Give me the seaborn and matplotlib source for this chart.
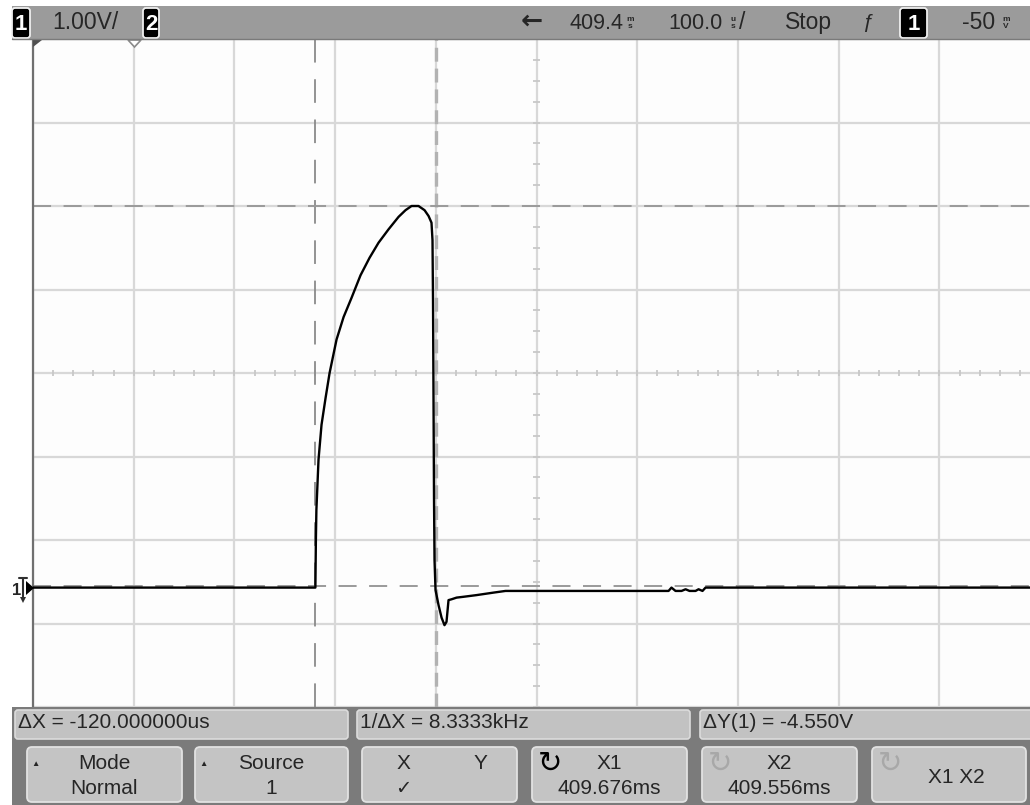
import numpy as np
import pandas as pd
import matplotlib
matplotlib.use("Agg")
import matplotlib.pyplot as plt
import seaborn as sns
from matplotlib.patches import Rectangle, FancyBboxPatch, Polygon

# ---------------- data ----------------
# time in microseconds relative to screen centre, voltage in volts (1 V/div)
time_us = [-500.0, -219.6, -219.1, -218.6, -216.5, -213.5, -209.5, -205.5, -198.6,
           -191.6, -183.7, -174.8, -165.8, -156.9, -147.0, -137.0, -130.1, -124.1,
           -117.2, -111.2, -107.2, -104.3, -103.3, -102.8, -102.3, -101.8, -101.3,
           -100.3, -97.3, -94.3, -91.4, -89.4, -87.4, -84.4, -79.4, -72.5, -59.6,
           -42.7, -30.8, 61.6, 131.1, 134.0, 138.0, 144.0, 148.0, 151.9, 157.9,
           160.9, 164.8, 167.8, 490.0]
volts = [-2.57, -2.57, -2.00, -1.64, -1.04, -0.62, -0.30, 0.00, 0.40,
         0.67, 0.90, 1.17, 1.38, 1.56, 1.72, 1.87, 1.95, 2.00,
         2.00, 1.95, 1.88, 1.80, 1.59, 0.87, -0.32, -1.52, -2.24,
         -2.60, -2.78, -2.93, -3.02, -2.98, -2.72, -2.71, -2.69, -2.68, -2.66,
         -2.63, -2.61, -2.61, -2.61, -2.57, -2.61, -2.61, -2.59, -2.61, -2.61,
         -2.59, -2.61, -2.57, -2.57]

cursor_x_us = [-220.0, -100.0]      # X2, X1
cursor_y_v = [2.0, -2.55]           # Y cursors
x_divs_us = list(range(-500, 501, 100))
y_divs_v = list(range(-4, 5, 1))

top_labels = {"scale": "1.00V/", "delay": "409.4", "tdiv": "100.0", "state": "Stop", "level": "-50"}
readouts = ["\u0394X = -120.000000us", "1/\u0394X = 8.3333kHz", "\u0394Y(1) = -4.550V"]
buttons = [("Mode", "Normal"), ("Source", "1"), ("X", "Y"),
           ("X1", "409.676ms"), ("X2", "409.556ms"), ("X1 X2", "")]

df = pd.DataFrame({"t": time_us, "v": volts})

# ---------------- style ----------------
sns.set_style("white")
plt.rcParams["font.family"] = ["Liberation Sans", "DejaVu Sans"]
plt.rcParams["lines.scale_dashes"] = False

W, H = 1030, 805
fig = plt.figure(figsize=(W / 100, H / 100), dpi=100)
fig.patch.set_facecolor("white")

# main scope screen: pixels x 33..1030, y 39..707
ax = fig.add_axes([33 / W, (H - 707) / H, (W - 33) / W, 668 / H], zorder=1)
ax.set_facecolor("#fdfdfd")

# trace
sns.lineplot(data=df, x="t", y="v", sort=False, estimator=None, color="black",
             lw=1.7, ax=ax, zorder=3)
ax.set_xlabel("")
ax.set_ylabel("")

ax.set_xticks(x_divs_us)
ax.set_yticks(y_divs_v)
ax.grid(True, color="#d8d8d8", lw=1.6)
ax.tick_params(length=0, labelbottom=False, labelleft=False)
for s in ["top", "right", "bottom"]:
    ax.spines[s].set_visible(False)
ax.spines["left"].set_color("#707070")
ax.spines["left"].set_linewidth(1.6)

# minor ticks along centre axes
ax.vlines(np.arange(-500, 491, 20), -0.04, 0.04, color="#c8c8c8", lw=1.3, zorder=1)
ax.hlines(np.arange(-4, 4.01, 0.25), -3.5, 3.5, color="#c8c8c8", lw=1.3, zorder=1)

# cursors
ax.axvline(cursor_x_us[0], color="#8a8a8a", lw=1.3, dashes=(17, 12), zorder=2)
ax.axvline(cursor_x_us[1], color="#b2b2b2", lw=2.4, dashes=(10, 5), zorder=2)
for yv in cursor_y_v:
    ax.axhline(yv, color="#9a9a9a", lw=1.4, dashes=(13, 9), zorder=2)

ax.set_xlim(-500, 490)
ax.set_ylim(-4, 4)

# ---------------- overlay in pixel coordinates ----------------
ov = fig.add_axes([0, 0, 1, 1], zorder=2)
ov.set_xlim(0, W)
ov.set_ylim(H, 0)
ov.axis("off")
ov.patch.set_alpha(0)

# top status bar
ov.add_patch(Rectangle((12, 6), W - 12, 34, fc="#9b9b9b", ec="none"))
ov.plot([12, W], [39.5, 39.5], color="#7a7a7a", lw=1)

def chan_box(x0, x1, label):
    ov.add_patch(FancyBboxPatch((x0, 8), x1 - x0, 30, boxstyle="round,pad=0,rounding_size=3",
                                fc="black", ec="#f0f0f0", lw=1.3))
    ov.text((x0 + x1) / 2, 30, label, color="white", fontsize=16, fontweight="bold",
            ha="center", va="baseline")

chan_box(12, 30, "1")
chan_box(143, 159, "2")
chan_box(900, 927, "1")

def stacked(x, top, bottom):
    ov.text(x, 23, top + "\n" + bottom, fontsize=6, ha="center", va="center",
            linespacing=0.95, fontweight="bold")

fs_top = 16.5
ov.text(52, 29, top_labels["scale"], fontsize=fs_top, ha="left", va="baseline")
ov.text(532, 22, "\u2190", fontsize=19, ha="center", va="center", fontweight="bold",
        family=["DejaVu Sans"])
ov.text(570, 29, top_labels["delay"], fontsize=15.5, ha="left", va="baseline")
stacked(630, "m", "s")
ov.text(668, 29, top_labels["tdiv"], fontsize=15.5, ha="left", va="baseline")
stacked(733, "u", "s")
ov.text(739, 29, "/", fontsize=fs_top, ha="left", va="baseline")
ov.text(785, 29, top_labels["state"], fontsize=fs_top, ha="left", va="baseline")
ov.text(868, 28, "\u0192", fontsize=15, ha="center", va="baseline")
ov.text(962, 29, top_labels["level"], fontsize=fs_top, ha="left", va="baseline")
stacked(1006, "m", "V")

# markers at top of screen
ov.add_patch(Polygon([[33, 40], [42, 40], [33, 47]], closed=True, fc="#505050", ec="none"))
ov.add_patch(Polygon([[128, 40], [141, 40], [134.5, 47]], closed=True, fc="white",
                     ec="#8a8a8a", lw=1.2))

# ground reference marker
ov.text(17, 595, "1", fontsize=12, fontweight="bold", ha="center", va="baseline")
ov.plot([19, 27], [578, 578], color="#303030", lw=1.5)
ov.plot([23, 23], [578, 598], color="#303030", lw=1.5)
ov.add_patch(Polygon([[20, 597], [26, 597], [23, 603]], closed=True, fc="#303030", ec="none"))
ov.add_patch(Polygon([[26, 581], [34, 588], [26, 595]], closed=True, fc="black", ec="none"))

# bottom softkey area
ov.add_patch(Rectangle((12, 707), W - 12, H - 707, fc="#7b7b7b", ec="none"))

row1 = [(15, 348), (357, 690), (700, 1034)]
for (x0, x1), txt in zip(row1, readouts):
    ov.add_patch(FancyBboxPatch((x0, 710), x1 - x0, 29, boxstyle="round,pad=0,rounding_size=3",
                                fc="#c2c2c2", ec="#dcdcdc", lw=1.2))
    ov.text(x0 + 3, 728, txt, fontsize=15, ha="left", va="baseline")

row2 = [(27, 182), (195, 348), (362, 517), (532, 687), (702, 857), (872, 1026)]
for i, ((x0, x1), (l1, l2)) in enumerate(zip(row2, buttons)):
    ov.add_patch(FancyBboxPatch((x0, 747), x1 - x0, 55, boxstyle="round,pad=0,rounding_size=5",
                                fc="#c4c4c4", ec="#e2e2e2", lw=1.3))
    cx = (x0 + x1) / 2
    if l1 == "X":
        ov.text(403, 769, "X", fontsize=15, ha="center", va="baseline")
        ov.text(480, 769, "Y", fontsize=15, ha="center", va="baseline")
        ov.text(403, 794, "\u2713", fontsize=14, ha="center", va="baseline")
    elif l2 == "":
        ov.text(cx + 7, 783, l1, fontsize=15, ha="center", va="baseline")
    else:
        ov.text(cx, 769, l1, fontsize=15, ha="center", va="baseline")
        ov.text(cx, 794, l2, fontsize=15, ha="center", va="baseline")
    if i < 2:
        ov.text(x0 + 8, 764, "\u25b2", fontsize=6, ha="center", va="center")
    if i >= 3:
        col = "black" if i == 3 else "#a8a8a8"
        ov.text(x0 + 18, 764, "\u21bb", fontsize=21, ha="center", va="center", color=col,
                family=["DejaVu Sans"])

fig.savefig("out.png", dpi=100, facecolor="white")
